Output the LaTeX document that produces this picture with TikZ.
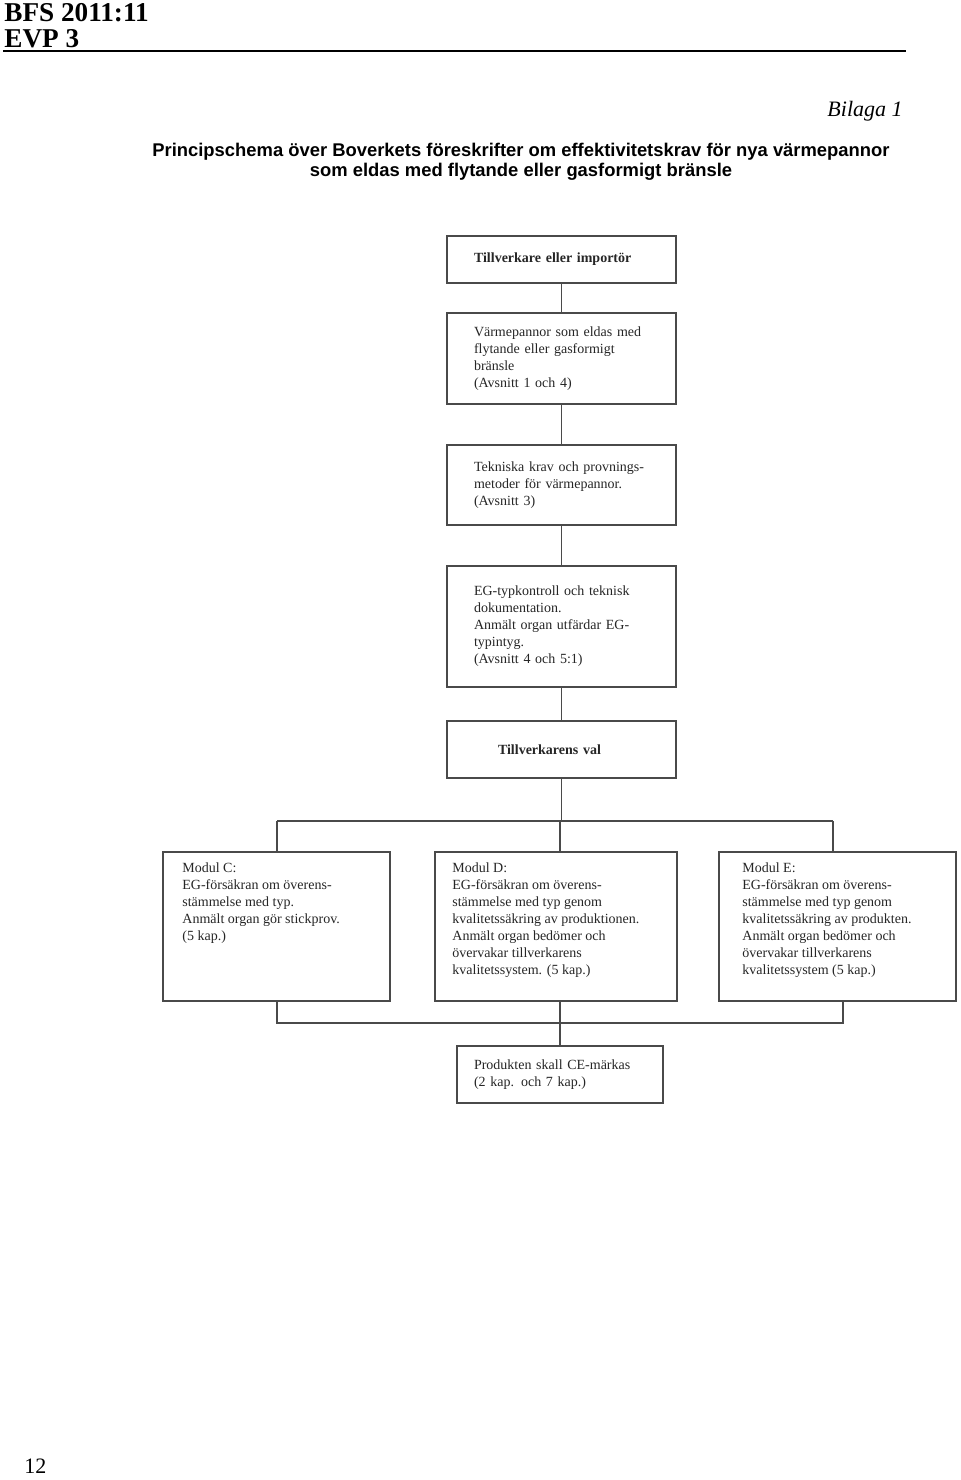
\documentclass[tikz,border=0pt]{standalone}
\usepackage{fontspec}
\setmainfont{Liberation Serif}
\newfontfamily\titlefont{Liberation Sans}
\usetikzlibrary{positioning}
\definecolor{linegray}{HTML}{4A4A4A}
\definecolor{textgray}{HTML}{262626}
\tikzset{
  box/.style={draw=linegray, line width=1pt, fill=white, text=textgray,
    text width=87.5pt, inner xsep=13.5pt, inner ysep=0pt, align=left,
    font=\fontsize{7}{8.5}\selectfont},
  modbox/.style={draw=linegray, line width=1pt, fill=white, minimum height=74.5pt, inner sep=0pt},
  modtext/.style={anchor=north west, inner sep=0pt, align=left, text=textgray,
    font=\fontsize{7}{8.5}\selectfont},
  link/.style={draw=linegray, line width=0.7pt}
}
\begin{document}
\begin{tikzpicture}[x=0.5pt, y=-0.5pt]
\useasboundingbox (0,0) rectangle (960,1480);
% page head
\node[anchor=west, inner sep=0pt, font=\fontsize{13.6}{14}\selectfont\bfseries] (bfs) at (4,13) {BFS 2011:11};
\node[anchor=west, inner sep=0pt, font=\fontsize{13.6}{14}\selectfont\bfseries] (evp) at (4,39) {EVP 3};
\draw[line width=0.8pt] (3,51) -- (906,51);
\node[anchor=east, inner sep=0pt, font=\fontsize{11}{12}\selectfont\itshape] (bilaga) at (903,111) {Bilaga 1};
\node[align=center, inner sep=0pt, font=\titlefont\fontsize{9.2}{10}\selectfont\bfseries] (rubrik) at (521,162)
  {Principschema över Boverkets föreskrifter om effektivitetskrav för nya värmepannor\\
   som eldas med flytande eller gasformigt bränsle};

% chain of boxes
\node[box, minimum height=23.5pt, font=\fontsize{7}{8.5}\selectfont\bfseries] (tillv) at (561.5,259.5) {Tillverkare eller importör};
\node[box, minimum height=45.5pt] (pannor) at (561.5,358.5)
  {Värmepannor som eldas med\\flytande eller gasformigt\\bränsle\\(Avsnitt 1 och 4)};
\node[box, minimum height=40pt] (krav) at (561.5,485)
  {Tekniska krav och provnings-\\metoder för värmepannor.\\(Avsnitt 3)};
\node[box, minimum height=60.5pt] (typ) at (561.5,626.5)
  {EG-typkontroll och teknisk\\dokumentation.\\Anmält organ utfärdar EG-\\typintyg.\\(Avsnitt 4 och 5:1)};
\node[box, minimum height=28.5pt, font=\fontsize{7}{8.5}\selectfont\bfseries] (val) at (561.5,749.5) {\hspace*{12pt}Tillverkarens val};

% modules
\node[modbox, minimum width=113.5pt] (modC) at (276.5,926.5) {};
\node[modbox, minimum width=121pt] (modD) at (556,926.5) {};
\node[modbox, minimum width=118.5pt] (modE) at (837.5,926.5) {};
\node[modtext] (txtC) at (182,862)
  {Modul C:\\EG-försäkran om överens-\\stämmelse med typ.\\Anmält organ gör stickprov.\\(5 kap.)};
\node[modtext] (txtD) at (452,862)
  {Modul D:\\EG-försäkran om överens-\\stämmelse med typ genom\\kvalitetssäkring av produktionen.\\Anmält organ bedömer och\\övervakar tillverkarens\\kvalitetssystem. (5 kap.)};
\node[modtext] (txtE) at (742,862)
  {Modul E:\\EG-försäkran om överens-\\stämmelse med typ genom\\kvalitetssäkring av produkten.\\Anmält organ bedömer och\\övervakar tillverkarens\\kvalitetssystem (5 kap.)};

\node[box, text width=86pt, inner xsep=8.5pt, minimum height=28.5pt] (ce) at (560,1074.5)
  {Produkten skall CE-märkas\\(2 kap. och 7 kap.)};

% connectors
\coordinate (topL) at (277,821);
\coordinate (topR) at (833,821);
\coordinate (botL) at (277,1023);
\coordinate (botR) at (843,1023);
\draw[link] (tillv) -- (pannor);
\draw[link] (pannor) -- (krav);
\draw[link] (krav) -- (typ);
\draw[link] (typ) -- (val);
\draw[link] (val.south) -- (val.south |- topL);
\draw[link] (topL) -- (topR);
\draw[link] (topL) -- (topL |- modC.north);
\draw[link] (modD.north -| ce.north) -- (ce.north |- topL);
\draw[link] (topR) -- (topR |- modE.north);
\draw[link] (botL |- modC.south) -- (botL) -- (botR) -- (botR |- modE.south);
\draw[link] (ce.north |- modD.south) -- (ce.north);

\node[anchor=west, inner sep=0pt, font=\fontsize{11}{12}\selectfont] (sida) at (24,1466) {12};
\end{tikzpicture}
\end{document}
